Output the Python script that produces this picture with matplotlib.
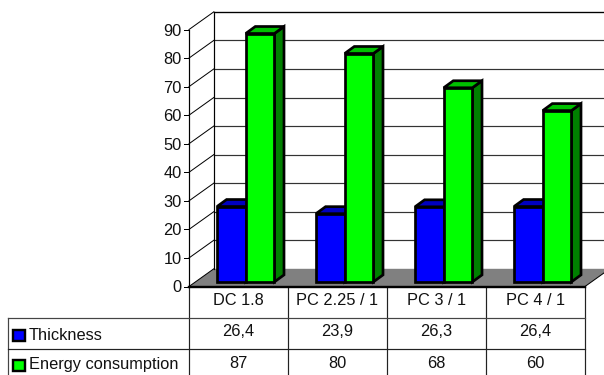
import matplotlib
matplotlib.use("Agg")
import matplotlib.pyplot as plt
from matplotlib.patches import Polygon, Rectangle

categories = ["DC 1.8", "PC 2.25 / 1", "PC 3 / 1", "PC 4 / 1"]
thickness = [26.4, 23.9, 26.3, 26.4]
energy = [87, 80, 68, 60]
series_names = ["Thickness", "Energy consumption"]
yticks = list(range(0, 100, 10))

W, H = 604, 375
X0, XU = 189.0, 99.0      # px of category 0, px per category
Y0, YU = 286.5, 2.855     # px of value 0, px per value unit
plt.rcParams["font.family"] = ["Liberation Sans", "DejaVu Sans"]
FS = 11.8
PX = 0.72

fig = plt.figure(figsize=(W / 100, H / 100), dpi=100)
ax = fig.add_axes([0, 0, 1, 1])
ax.set_xlim(-X0 / XU, (W - X0) / XU)
ax.set_ylim(-(H - Y0) / YU, Y0 / YU)
ax.axis("off")

px = lambda v: v / XU       # horizontal pixels -> data
py = lambda v: v / YU       # vertical pixels -> data
n = len(categories)
ymax = yticks[-1]
WDX, WDY = px(24.8), py(17.7)
END = (W - X0) / XU
LINE = "#222222"

# floor
ax.add_patch(Polygon([(0, 0), (n, 0), (n + WDX, WDY), (WDX, WDY)], fc="#808080", ec="none", zorder=1))
# gridlines on back wall and side wall
for t in yticks:
    if t > 0:
        ax.plot([WDX, END], [t + WDY, t + WDY], color="#333333", lw=1.2 * PX, zorder=1.5)
    ax.plot([0, WDX], [t, t + WDY], color="black", lw=1.0 * PX, zorder=1.5)
    ax.plot([-px(5), 0], [t, t], color="black", lw=1.0 * PX, zorder=2)
    ax.text(-px(7.5), t, str(t), ha="right", va="center_baseline", fontsize=FS, color="#111111")
ax.plot([WDX, END], [ymax + WDY] * 2, color="black", lw=1.2 * PX, zorder=1.5)
ax.plot([WDX, WDX], [WDY, ymax + WDY], color="black", lw=1.2 * PX, zorder=1.5)
ax.plot([0, 0], [0, ymax], color="black", lw=1.2 * PX, zorder=2)
ax.plot([n, n + WDX], [0, WDY], color="black", lw=1.0 * PX, zorder=2)

# 3-D bars
BW = px(28.7)
BASE = py(4.6)
LEFT = px(28.0)
DX, DY = px(9.6), py(7.0)
BLW = 2.7 * PX


def bar3d(x, v, front, top, side, z):
    y0, y1 = BASE, BASE + v
    kw = dict(ec="black", lw=BLW, joinstyle="miter", zorder=z)
    ax.add_patch(Polygon([(x + BW, y0), (x + BW + DX, y0 + DY), (x + BW + DX, y1 + DY), (x + BW, y1)], fc=side, **kw))
    ax.add_patch(Polygon([(x, y1), (x + BW, y1), (x + BW + DX, y1 + DY), (x + DX, y1 + DY)], fc=top, **kw))
    ax.add_patch(Rectangle((x, y0), BW, v, fc=front, **kw))


for i in range(n):
    bar3d(i + LEFT, thickness[i], "#0000ff", "#0000c0", "#000080", 3)
    bar3d(i + LEFT + BW, energy[i], "#00ff00", "#00c000", "#008000", 4)

# axis baseline
ax.plot([0, n], [0, 0], color="black", lw=2.4 * PX, zorder=5)

# data table
R1, R2, R3 = -py(31.3), -py(62), -py(88.5)
TL = -px(180.7)
RLW = 1.2 * PX
for i in range(n + 1):
    ax.plot([i, i], [0, R3], color=LINE, lw=RLW, zorder=2)
ax.plot([TL, TL], [R1, R3], color="#444444", lw=RLW, zorder=2)
ax.plot([TL, n], [R1, R1], color="#444444", lw=RLW, zorder=2)
ax.plot([TL, n], [R2, R2], color=LINE, lw=RLW, zorder=2)
for i, c in enumerate(categories):
    ax.text(i + 0.5, -py(14), c, ha="center", va="center", fontsize=FS, color="#111111")
    ax.text(i + 0.5, -py(45), f"{thickness[i]}".replace(".", ","), ha="center", va="center", fontsize=FS, color="#111111")
    ax.text(i + 0.5, -py(77), f"{energy[i]}", ha="center", va="center", fontsize=FS, color="#111111")

for name, ymid, col in zip(series_names, (-py(48.5), -py(78.5)), ("#0000ff", "#00ff00")):
    ax.add_patch(Rectangle((-px(176), ymid - py(5.5)), px(12), py(11), fc=col, ec="black", lw=2.4 * PX, zorder=3))
    ax.text(-px(160), ymid, name, ha="left", va="center", fontsize=FS, color="#111111")

fig.savefig("out.png", dpi=100)
